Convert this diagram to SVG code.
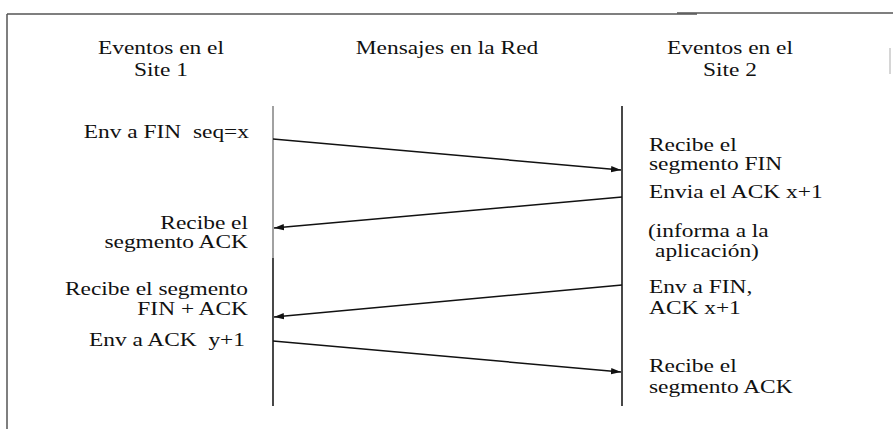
<svg xmlns="http://www.w3.org/2000/svg" width="893" height="429" viewBox="0 0 893 429">
  <style>
    .t { font-family: "Liberation Serif", "Times New Roman", serif; font-size: 18px; fill: #111; }
    .frame { stroke: #555; stroke-width: 1.5; fill: none; }
    .life { stroke: #1a1a1a; stroke-width: 1.6; fill: none; }
    .life-soft { stroke: #8a8a8a; stroke-width: 1.6; fill: none; }
    .msg { stroke: #111; stroke-width: 1.5; fill: none; marker-end: url(#head); }
  </style>
  <defs>
    <marker id="head" markerUnits="userSpaceOnUse" markerWidth="12" markerHeight="8" refX="10" refY="4" orient="auto">
      <path d="M0,0.8 L10,4 L0,7.2 Z" fill="#111"/>
    </marker>
  </defs>

  <!-- outer frame (top and left edges only) -->
  <g id="frame">
    <line class="frame" x1="7" y1="14" x2="697" y2="14"/>
    <line class="frame" x1="677" y1="13" x2="893" y2="13"/>
    <line class="frame" x1="7" y1="14" x2="7" y2="429"/>
    <line x1="890" y1="48" x2="890" y2="74" stroke="#bbb" stroke-width="1.2"/>
  </g>

  <!-- column headers -->
  <g id="header-site1">
    <text class="t" text-anchor="middle" transform="translate(161 54) scale(1.3 1)">Eventos en el</text>
    <text class="t" text-anchor="middle" transform="translate(161 76) scale(1.3 1)">Site 1</text>
  </g>
  <g id="header-network">
    <text class="t" text-anchor="middle" transform="translate(447 54) scale(1.3 1)">Mensajes en la Red</text>
  </g>
  <g id="header-site2">
    <text class="t" text-anchor="middle" transform="translate(730 54) scale(1.3 1)">Eventos en el</text>
    <text class="t" text-anchor="middle" transform="translate(730 76) scale(1.3 1)">Site 2</text>
  </g>

  <!-- timelines -->
  <g id="lifeline-site1">
    <line class="life-soft" x1="273" y1="106" x2="273" y2="258"/>
    <line class="life" x1="273" y1="258" x2="273" y2="406"/>
  </g>
  <g id="lifeline-site2">
    <line class="life" x1="622" y1="106" x2="622" y2="406"/>
  </g>

  <!-- messages -->
  <g id="connectors">
    <line class="msg" x1="273" y1="139" x2="621" y2="170"/>
    <line class="msg" x1="622" y1="197" x2="274" y2="228"/>
    <line class="msg" x1="622" y1="285" x2="274" y2="317"/>
    <line class="msg" x1="273" y1="341" x2="621" y2="372"/>
  </g>

  <!-- events at site 1 -->
  <g id="site1-send-fin">
    <text class="t" text-anchor="end" xml:space="preserve" transform="translate(249 138) scale(1.3 1)">Env a FIN  seq=x</text>
  </g>
  <g id="site1-recv-ack">
    <text class="t" text-anchor="end" transform="translate(248 229) scale(1.3 1)">Recibe el</text>
    <text class="t" text-anchor="end" transform="translate(248 248) scale(1.3 1)">segmento ACK</text>
  </g>
  <g id="site1-recv-finack">
    <text class="t" text-anchor="end" transform="translate(248 295) scale(1.3 1)">Recibe el segmento</text>
    <text class="t" text-anchor="end" transform="translate(248 315) scale(1.3 1)">FIN + ACK</text>
  </g>
  <g id="site1-send-ack">
    <text class="t" text-anchor="end" xml:space="preserve" transform="translate(245 346) scale(1.3 1)">Env a ACK  y+1</text>
  </g>

  <!-- events at site 2 -->
  <g id="site2-recv-fin">
    <text class="t" transform="translate(649 151) scale(1.3 1)">Recibe el</text>
    <text class="t" transform="translate(649 170) scale(1.3 1)">segmento FIN</text>
  </g>
  <g id="site2-send-ack">
    <text class="t" transform="translate(649 198) scale(1.3 1)">Envia el ACK x+1</text>
  </g>
  <g id="site2-notify">
    <text class="t" transform="translate(648 237) scale(1.3 1)">(informa a la</text>
    <text class="t" transform="translate(655 257) scale(1.3 1)">aplicación)</text>
  </g>
  <g id="site2-send-finack">
    <text class="t" transform="translate(649 293) scale(1.3 1)">Env a FIN,</text>
    <text class="t" transform="translate(649 314) scale(1.3 1)">ACK x+1</text>
  </g>
  <g id="site2-recv-ack">
    <text class="t" transform="translate(649 372) scale(1.3 1)">Recibe el</text>
    <text class="t" transform="translate(649 393) scale(1.3 1)">segmento ACK</text>
  </g>
</svg>
